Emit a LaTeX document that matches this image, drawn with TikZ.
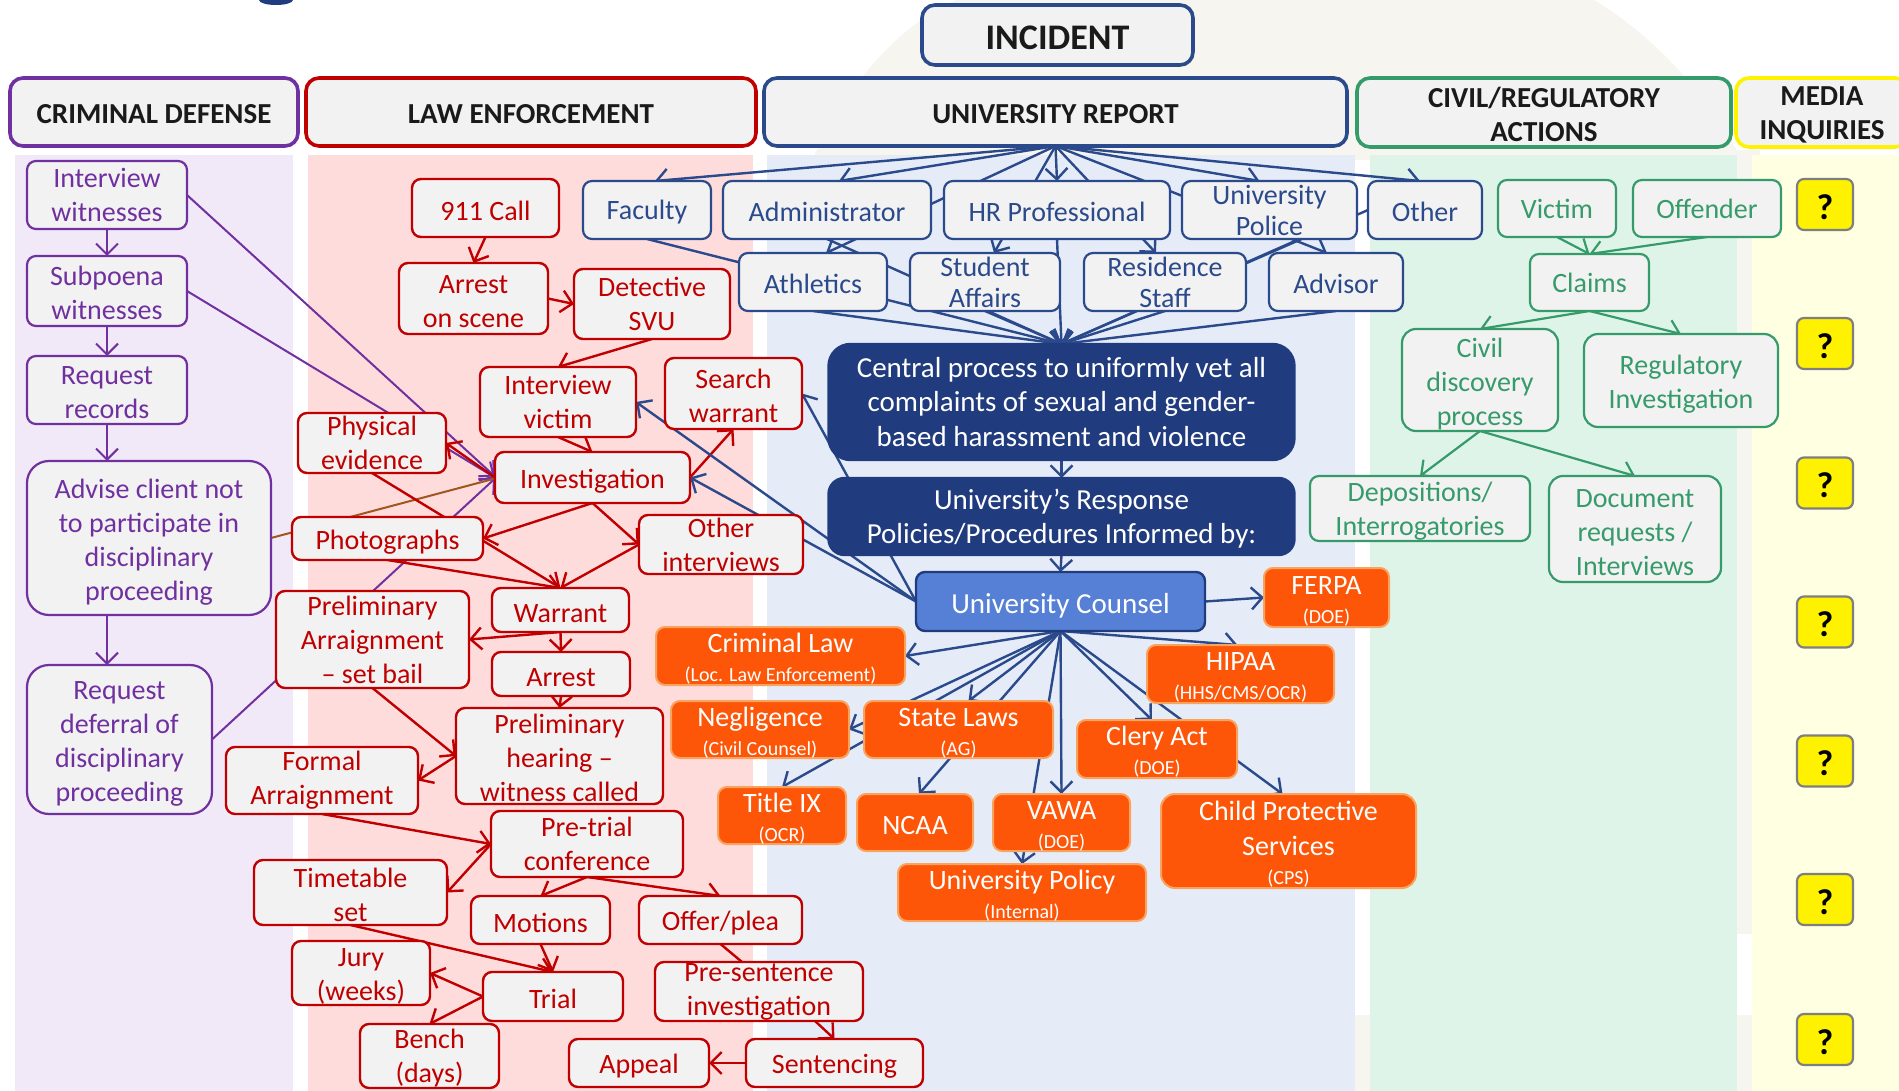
\documentclass[tikz,border=0pt]{standalone}
\usepackage{fontspec}
\setmainfont{Carlito}
\usetikzlibrary{arrows.meta,calc}
\definecolor{cpurple}{HTML}{7030A0}
\definecolor{cred}{HTML}{C00000}
\definecolor{cblue}{HTML}{2B4A8C}
\definecolor{cnavy}{HTML}{213C7E}
\definecolor{ccounsel}{HTML}{5680D6}
\definecolor{corange}{HTML}{FD5608}
\definecolor{corangeb}{HTML}{F9A45E}
\definecolor{cgreen}{HTML}{369B6A}
\definecolor{cboxfill}{HTML}{F2F2F2}
\definecolor{colpurple}{HTML}{F1E9F7}
\definecolor{colred}{HTML}{FFDCDC}
\definecolor{colblue}{HTML}{E5ECF8}
\definecolor{colgreen}{HTML}{DFF4E8}
\definecolor{colyellow}{HTML}{FFFFE2}
\definecolor{cbeige}{HTML}{F7F5F0}
\definecolor{cbrown}{HTML}{A0561E}
\definecolor{cheadtxt}{HTML}{1A1A1A}
\definecolor{cqborder}{HTML}{7F7F7F}
\pgfdeclarelayer{bg}
\pgfdeclarelayer{lines}
\pgfsetlayers{bg,lines,main}
\newcommand{\subt}[1]{{\fontsize{20}{21}\selectfont #1}}
\newcommand{\dnr}[1][26pt]{\rule{0pt}{#1}}
\tikzset{
  every node/.style={inner sep=0pt, outer sep=0pt},
  bx/.style 2 args={minimum width=#1, minimum height=#2},
  nbase/.style={rounded corners=9pt, fill=cboxfill, align=center, font=\fontsize{28}{34}\selectfont, line width=2.4pt},
  hdr/.style={nbase, rounded corners=13pt, line width=3.6pt, text=cheadtxt, font=\bfseries\fontsize{29}{34}\selectfont},
  pbox/.style={nbase, draw=cpurple, text=cpurple, line width=2.2pt},
  rbox/.style={nbase, draw=cred, text=cred},
  bbox/.style={nbase, draw=cblue, text=cblue, line width=2.2pt},
  gbox/.style={nbase, draw=cgreen, text=cgreen, line width=2.2pt},
  obox/.style={nbase, fill=corange, draw=corangeb, text=white, line width=2pt},
  qbox/.style={nbase, fill=yellow, draw=cqborder, text=black, line width=2.2pt, font=\bfseries\fontsize{36}{36}\selectfont, rounded corners=7pt},
  arr/.style={-{Straight Barb[length=11pt,width=22pt]}},
  pline/.style={draw=cpurple, line width=2pt},
  rline/.style={draw=cred, line width=2.4pt},
  bline/.style={draw=cblue, line width=2.4pt},
  gline/.style={draw=cgreen, line width=2.2pt},
}
\begin{document}
\begin{tikzpicture}[x=1pt,y=-1pt]
\useasboundingbox (0,0) rectangle (1899,1091);
\begin{pgfonlayer}{bg}
\fill[white] (0,0) rectangle (1899,1091);
\fill[cbeige] (812,160) .. controls (850,80) and (900,25) .. (956,0) -- (1594,0) .. controls (1660,40) and (1710,100) .. (1742,160) -- cycle;
\fill[cbeige] (1730,150) rectangle (1760,934);
\fill[cbeige] (1730,1015) rectangle (1760,1091);
\fill[cbeige] (1350,1015) rectangle (1375,1091);
\fill[colpurple] (15,155) rectangle (293,1091);
\fill[colred] (308,155) rectangle (753,1091);
\fill[colblue] (767,155) rectangle (1355,1091);
\fill[colgreen] (1370,155) rectangle (1737,1091);
\fill[colyellow] (1752,155) rectangle (1899,1091);
\fill[cnavy] (276,0) ellipse [x radius=17, y radius=5];
\end{pgfonlayer}

% headers
\node[hdr, draw=cblue, bx={271}{60}, font=\bfseries\fontsize{36}{40}\selectfont] (inc) at (1057.5,35) {\dnr[28.5pt]INCIDENT};
\node[hdr, draw=cpurple, bx={288}{68}] (hcd) at (154,112) {\dnr[24pt]CRIMINAL DEFENSE};
\node[hdr, draw=cred, bx={450}{68}] (hle) at (531,112) {\dnr[24pt]LAW ENFORCEMENT};
\node[hdr, draw=cblue, bx={583}{68}] (ur) at (1055.5,112) {\dnr[24pt]UNIVERSITY REPORT};
\node[hdr, draw=cgreen, bx={374}{69}] (hcv) at (1544,112.5) {\dnr[24pt]CIVIL/REGULATORY\\ACTIONS};
\node[hdr, draw=yellow, bx={172}{69}] (hmd) at (1822,112.5) {\dnr[24pt]MEDIA\\INQUIRIES};

% criminal defense
\node[pbox, bx={160}{68}] (iw) at (107,195) {Interview\\witnesses};
\node[pbox, bx={160}{70}] (sw) at (107,291) {\dnr[23pt]Subpoena\\witnesses};
\node[pbox, bx={160}{68}] (rr) at (107,390) {\dnr[24pt]Request\\records};
\node[pbox, bx={244}{154}, rounded corners=22pt] (adv) at (149,538) {\dnr[27pt]Advise client not\\to participate in\\disciplinary\\proceeding};
\node[pbox, bx={185}{149}, rounded corners=22pt] (rdd) at (119.5,739.5) {\dnr[27pt]Request\\deferral of\\disciplinary\\proceeding};

% law enforcement
\node[rbox, bx={147}{58}] (call) at (485.5,208) {\dnr 911 Call};
\node[rbox, bx={149}{71}] (aos) at (473.5,298.5) {\dnr[24pt]Arrest\\on scene};
\node[rbox, bx={156}{70}] (svu) at (652,304) {Detective\\SVU};
\node[rbox, bx={148}{60}] (pe) at (372,443) {Physical\\evidence};
\node[rbox, bx={156}{70}] (iv) at (558,402) {Interview\\victim};
\node[rbox, bx={137}{71}] (sw2) at (733.5,393.5) {\dnr[24pt]Search\\warrant};
\node[rbox, bx={195}{51}] (inv) at (592.5,477.5) {\dnr Investigation};
\node[rbox, bx={191}{43}] (photo) at (387.5,538.5) {\dnr Photographs};
\node[rbox, bx={164}{59}] (oi) at (721,544.5) {Other\\interviews};
\node[rbox, bx={137}{44}] (warrant) at (560.5,610) {\dnr Warrant};
\node[rbox, bx={193}{97}] (paa) at (372.5,639.5) {Preliminary\\Arraignment\\– set bail};
\node[rbox, bx={138}{44}] (arrest) at (561,674) {\dnr Arrest};
\node[rbox, bx={207}{96}] (ph) at (559.5,756) {\dnr[23pt]Preliminary\\hearing –\\witness called};
\node[rbox, bx={192}{67}] (fa) at (322,780.5) {Formal\\Arraignment};
\node[rbox, bx={192}{66}] (ptc) at (587,844) {Pre-trial\\conference};
\node[rbox, bx={193}{65}] (tts) at (350.5,892.5) {\dnr[24pt]Timetable\\set};
\node[rbox, bx={139}{48}] (motions) at (540.5,920) {\dnr Motions};
\node[rbox, bx={163}{48}] (offer) at (720.5,920) {\dnr Offer/plea};
\node[rbox, bx={138}{64}] (jury) at (361,973) {\dnr[24pt]Jury\\(weeks)};
\node[rbox, bx={140}{49}] (trial) at (553,996.5) {\dnr[24pt]Trial};
\node[rbox, bx={208}{59}] (psi) at (759,991.5) {Pre-sentence\\investigation};
\node[rbox, bx={139}{64}] (bench) at (429.5,1056) {\dnr[24pt]Bench\\(days)};
\node[rbox, bx={140}{48}] (appeal) at (639,1063) {\dnr Appeal};
\node[rbox, bx={177}{48}] (sent) at (834.5,1063) {\dnr Sentencing};

% university report
\node[bbox, bx={128}{58}] (fac) at (647,210) {\dnr[24pt]Faculty};
\node[bbox, bx={208}{58}] (adm) at (827,210) {\dnr[24pt]Administrator};
\node[bbox, bx={226}{58}] (hr) at (1057,210) {\dnr[24pt]HR Professional};
\node[bbox, bx={175}{58}, font=\fontsize{28}{31}\selectfont] (up) at (1269.5,210) {University\\Police};
\node[bbox, bx={114}{58}] (oth) at (1425,210) {\dnr[24pt]Other};
\node[bbox, bx={148}{58}] (ath) at (813,282) {\dnr[24pt]Athletics};
\node[bbox, bx={150}{58}, font=\fontsize{28}{31}\selectfont] (sa) at (985,282) {Student\\Affairs};
\node[bbox, bx={162}{58}, font=\fontsize{28}{31}\selectfont] (rs) at (1165,282) {Residence\\Staff};
\node[bbox, bx={134}{58}] (advr) at (1336,282) {\dnr[24pt]Advisor};
\node[nbase, fill=cnavy, draw=cnavy, text=white, bx={466}{116}, rounded corners=22pt, font=\fontsize{29}{34.5}\selectfont] (cp) at (1061.5,402) {Central process to uniformly vet all\\complaints of sexual and gender-\\based harassment and violence};
\node[nbase, fill=cnavy, draw=cnavy, text=white, bx={466}{77}, rounded corners=16pt, font=\fontsize{29}{34}\selectfont] (resp) at (1061.5,516.5) {\dnr[25.5pt]University’s Response\\Policies/Procedures Informed by:};
\node[nbase, fill=ccounsel, draw=cnavy, text=white, bx={289}{59}, font=\fontsize{29}{34}\selectfont] (counsel) at (1060.5,601.5) {\dnr[28pt]University Counsel};

% orange
\node[obox, bx={125}{59}] (ferpa) at (1326.5,597.5) {\dnr[25pt]FERPA\\[-5pt]\subt{(DOE)}};
\node[obox, bx={249}{58}] (crim) at (780.5,656) {\dnr[25pt]Criminal Law\\[-5pt]\subt{(Loc. Law Enforcement)}};
\node[obox, bx={187}{58}] (hipaa) at (1240.5,674) {\dnr[25pt]HIPAA\\[-5pt]\subt{(HHS/CMS/OCR)}};
\node[obox, bx={178}{57}] (negl) at (760,729.5) {\dnr[25pt]Negligence\\[-5pt]\subt{(Civil Counsel)}};
\node[obox, bx={189}{57}] (state) at (958.5,729.5) {\dnr[25pt]State Laws\\[-5pt]\subt{(AG)}};
\node[obox, bx={160}{58}] (clery) at (1157,749) {\dnr[25pt]Clery Act\\[-5pt]\subt{(DOE)}};
\node[obox, bx={128}{57}] (title9) at (782,815.5) {\dnr[25pt]Title IX\\[-5pt]\subt{(OCR)}};
\node[obox, bx={116}{57}] (ncaa) at (915,822.5) {\dnr[25pt]NCAA};
\node[obox, bx={137}{57}] (vawa) at (1061.5,822.5) {\dnr[25pt]VAWA\\[-5pt]\subt{(DOE)}};
\node[obox, bx={255}{94}, rounded corners=14pt, font=\fontsize{28}{35}\selectfont] (cps) at (1288.5,841) {\dnr[25pt]Child Protective\\Services\\[-6pt]\subt{(CPS)}};
\node[obox, bx={248}{57}] (upol) at (1022,892.5) {\dnr[25pt]University Policy\\[-5pt]\subt{(Internal)}};

% civil
\node[gbox, bx={118}{57}] (victim) at (1557,208.5) {Victim};
\node[gbox, bx={148}{57}] (offender) at (1707,208.5) {Offender};
\node[gbox, bx={119}{57}] (claims) at (1589.5,282.5) {Claims};
\node[gbox, bx={156}{102}, rounded corners=14pt] (cdp) at (1480,380) {\dnr[27pt]Civil\\discovery\\process};
\node[gbox, bx={194}{93}, rounded corners=14pt] (reg) at (1681,380.5) {\dnr[27pt]Regulatory\\Investigation};
\node[gbox, bx={220}{65}] (dep) at (1420,508.5) {\dnr[25pt]Depositions/\\Interrogatories};
\node[gbox, bx={172}{106}, rounded corners=14pt] (doc) at (1635,529) {\dnr[25pt]Document\\requests /\\Interviews};

% media
\foreach \yy [count=\i] in {204.5,343.5,483,622,761,899.5,1039.5}
  \node[qbox, bx={56}{51}] (q\i) at (1825,\yy) {\dnr[30pt]?};

\begin{pgfonlayer}{lines}
% purple
\draw[pline, arr] (iw.south) -- (sw.north);
\draw[pline, arr] (sw.south) -- (rr.north);
\draw[pline, arr] (rr.south) -- ([xshift=-42]adv.north);
\draw[pline, arr] ([xshift=-42]adv.south) -- ([xshift=-12.5]rdd.north);
\draw[pline, arr] (iw.east) -- ([yshift=1]inv.west);
\draw[pline, arr] (sw.east) -- (inv.west);
\draw[pline, arr] (rdd.east) -- ([yshift=-1]inv.west);
\draw[draw=cbrown, line width=2pt] (adv.east) -- ([yshift=-1]inv.west);
% red
\draw[rline, arr] (call.south) -- (aos.north);
\draw[rline, arr] (aos.east) -- (svu.west);
\draw[rline, arr] (svu.south) -- (iv.north);
\draw[rline, arr] (iv.south) -- (inv.north);
\draw[rline, arr] (inv.west) -- (pe.east);
\draw[rline, arr] (inv.east) -- (sw2.south);
\draw[rline, arr] (inv.south) -- (photo.east);
\draw[rline, arr] (inv.south) -- (oi.west);
\draw[rline, arr] (pe.south) -- (warrant.north);
\draw[rline, arr] (photo.south) -- (warrant.north);
\draw[rline, arr] (oi.west) -- (warrant.north);
\draw[rline, arr] (warrant.south) -- (paa.east);
\draw[rline, arr] (warrant.south) -- (arrest.north);
\draw[rline, arr] (arrest.south) -- (ph.north);
\draw[rline, arr] (paa.south) -- (ph.west);
\draw[rline, arr] (ph.west) -- (fa.east);
\draw[rline, arr] (fa.south) -- (ptc.west);
\draw[rline, arr] (ptc.west) -- (tts.east);
\draw[rline, arr] (ptc.south) -- (motions.north);
\draw[rline, arr] (ptc.south) -- (offer.north);
\draw[rline, arr] (tts.south) -- (trial.north);
\draw[rline, arr] (motions.south) -- (trial.north);
\draw[rline, arr] (trial.west) -- (jury.east);
\draw[rline, arr] (trial.west) -- (bench.north);
\draw[rline] (offer.south) -- ([xshift=-17]psi.north);
\draw[rline, arr] ([xshift=56]psi.south) -- (sent.north);
\draw[rline, arr] (sent.west) -- (appeal.east);
% blue fan
\foreach \n/\s in {fac/8, adm/12, hr/0, up/-10, oth/-5, ath/13, sa/9, rs/-9, advr/-9}
  \draw[bline, arr] (ur.south) -- ([xshift=\s]\n.north);
\foreach \n in {fac, adm, hr, ath, sa, rs, advr}
  \draw[bline, arr] (\n.south) -- (cp.north);
\draw[bline, arr] ([xshift=30]up.south) -- (cp.north);
\draw[bline, arr] (oth.west) -- (cp.north);
\draw[bline, arr] (cp.south) -- (resp.north);
\draw[bline, arr] (resp.south) -- (counsel.north);
\draw[bline, arr] (counsel.east) -- (ferpa.west);
\draw[bline, arr] (counsel.south) -- (crim.east);
\draw[bline, arr] (counsel.south) -- ([xshift=-3]hipaa.north);
\draw[bline, arr] (counsel.south) -- (negl.east);
\draw[bline, arr] (counsel.south) -- ([xshift=10]state.north);
\draw[bline, arr] (counsel.south) -- (title9.north);
\draw[bline, arr] (counsel.south) -- ([xshift=4]ncaa.north);
\draw[bline, arr] (counsel.south) -- (vawa.north);
\draw[bline, arr] (counsel.south) -- (upol.north);
\draw[bline, arr] (counsel.south) -- ([xshift=-5]clery.north);
\draw[bline, arr] (counsel.south) -- ([xshift=-6]cps.north);
\draw[bline, arr] (counsel.west) -- (inv.east);
\draw[bline, arr] (counsel.west) -- (iv.east);
\draw[bline, arr] (counsel.west) -- (sw2.east);
% green
\draw[gline, arr] (victim.south) -- (claims.north);
\draw[gline, arr] (offender.south) -- (claims.north);
\draw[gline, arr] (claims.south) -- (cdp.north);
\draw[gline, arr] (claims.south) -- (reg.north);
\draw[gline, arr] (cdp.south) -- (dep.north);
\draw[gline, arr] (cdp.south) -- (doc.north);
\end{pgfonlayer}
\end{tikzpicture}
\end{document}
